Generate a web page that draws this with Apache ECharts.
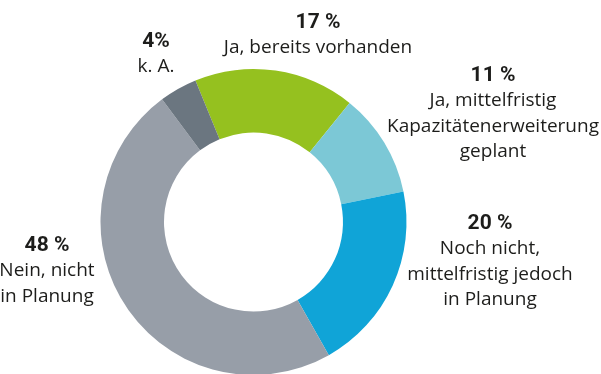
<!DOCTYPE html>
<html>
<head>
<meta charset="utf-8">
<script src="https://cdn.jsdelivr.net/npm/echarts@6/dist/echarts.min.js"></script>
<style>
  html, body { margin: 0; padding: 0; background: #ffffff; }
  #chart { width: 601px; height: 374px; }
</style>
</head>
<body>
<div id="chart"></div>
<script>
// Answer categories, clockwise from the top of the ring
const categories = [
  'Ja, bereits vorhanden',
  'Ja, mittelfristig\nKapazitätenerweiterung\ngeplant',
  'Noch nicht,\nmittelfristig jedoch\nin Planung',
  'Nein, nicht\nin Planung',
  'k. A.'
];
// Shares in percent
const values = [17, 11, 20, 48, 4];
// Spacing between number and percent sign in each label
const percentGaps = [' ', ' ', ' ', ' ', ''];
const colors = ['#95c11f', '#7cc8d6', '#10a4d7', '#979ea8', '#6b7680'];

// Where each label block sits (top centre, px)
const labelAnchors = [
  [318, 10],
  [493, 63],
  [490, 211],
  [47, 233],
  [156, 29]
];

const chart = echarts.init(document.getElementById('chart'), null, { renderer: 'canvas' });

const option = {
  animation: false,
  backgroundColor: '#ffffff',
  series: [{
    type: 'pie',
    center: [253.5, 222],
    radius: [89.5, 153],
    startAngle: 112.3,
    clockwise: true,
    avoidLabelOverlap: false,
    silent: true,
    itemStyle: { borderWidth: 0 },
    labelLine: { show: false },
    label: {
      show: true,
      position: 'outside',
      formatter: function (p) {
        const i = p.dataIndex;
        const pct = '{p|' + values[i] + percentGaps[i] + '%}';
        const lines = categories[i].split('\n').map(function (s) { return '{t|' + s + '}'; });
        return [pct].concat(lines).join('\n');
      },
      rich: {
        p: {
          fontFamily: 'Roboto, sans-serif',
          fontWeight: 'bold',
          fontSize: 21,
          lineHeight: 25,
          color: '#1d1d1b',
          align: 'center'
        },
        t: {
          fontFamily: '"Open Sans", "Noto Sans", sans-serif',
          fontSize: 19,
          lineHeight: 25.5,
          color: '#1d1d1b',
          align: 'center'
        }
      }
    },
    labelLayout: function (params) {
      const a = labelAnchors[params.dataIndex];
      return { x: a[0], y: a[1], align: 'center', verticalAlign: 'top' };
    },
    data: values.map(function (v, i) {
      return { value: v, name: categories[i], itemStyle: { color: colors[i] } };
    })
  }]
};

chart.setOption(option);
</script>
</body>
</html>
